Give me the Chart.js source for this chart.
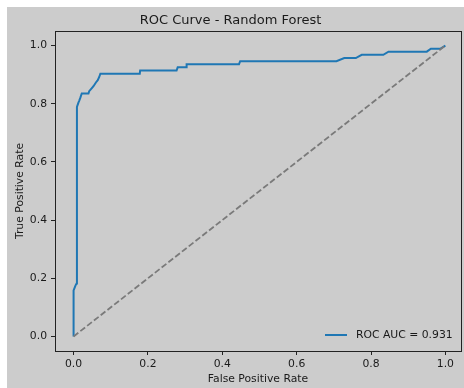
<!DOCTYPE html>
<html>
<head>
<meta charset="utf-8">
<script src="https://cdn.jsdelivr.net/npm/chart.js@4/dist/chart.umd.min.js"></script>
<style>
  html, body { margin: 0; padding: 0; background: #ffffff; }
  canvas { display: block; }
</style>
</head>
<body>
<canvas id="c" width="464" height="388"></canvas>
<script>
// ---- data ----
const chartTitle = 'ROC Curve - Random Forest';
const xLabel = 'False Positive Rate';
const yLabel = 'True Positive Rate';
const aucValue = 0.931;
const fpr = [0, 0, 0.005, 0.008, 0.009, 0.013, 0.015, 0.018, 0.022, 0.040, 0.042, 0.048, 0.054, 0.060, 0.065, 0.069, 0.072, 0.178, 0.179, 0.277, 0.280, 0.303, 0.304, 0.445, 0.448, 0.707, 0.728, 0.759, 0.775, 0.833, 0.847, 0.950, 0.961, 0.986, 1.0];
const tpr = [0, 0.158, 0.175, 0.182, 0.789, 0.804, 0.810, 0.820, 0.835, 0.835, 0.843, 0.852, 0.861, 0.873, 0.881, 0.892, 0.903, 0.903, 0.914, 0.914, 0.925, 0.925, 0.936, 0.936, 0.946, 0.946, 0.957, 0.957, 0.968, 0.968, 0.979, 0.979, 0.989, 0.989, 1.0];
const diagX = [0, 1];
const diagY = [0, 1];
const xTicks = [0, 0.2, 0.4, 0.6, 0.8, 1.0];
const yTicks = [0, 0.2, 0.4, 0.6, 0.8, 1.0];

// ---- styling ----
const FONT = 'DejaVu Sans';
const TXT = '#1a1a1a';
const BG = '#cccccc';
const ROC_COLOR = '#1f77b4';

const rocLabel = 'ROC AUC = ' + aucValue.toFixed(3);

const framePlugin = {
  id: 'frame',
  beforeDraw(chart) {
    const ctx = chart.ctx;
    ctx.save();
    ctx.fillStyle = '#ffffff';
    ctx.fillRect(0, 0, chart.width, chart.height);
    ctx.fillStyle = BG;
    ctx.fillRect(7, 7, chart.width - 7, chart.height - 7);
    ctx.restore();
  },
  afterDraw(chart) {
    const ctx = chart.ctx;
    const a = chart.chartArea;
    ctx.save();
    // axes box
    ctx.strokeStyle = '#222222';
    ctx.lineWidth = 1;
    ctx.strokeRect(Math.round(a.left) + 0.5, Math.round(a.top) + 0.5,
                   Math.round(a.right) - Math.round(a.left), Math.round(a.bottom) - Math.round(a.top));
    // legend (lower right, inside axes)
    const ly = a.bottom - 16;
    const lx = a.right - 136;
    ctx.strokeStyle = ROC_COLOR;
    ctx.lineWidth = 2;
    ctx.beginPath();
    ctx.moveTo(lx, ly);
    ctx.lineTo(lx + 22, ly);
    ctx.stroke();
    ctx.fillStyle = TXT;
    ctx.font = '10.8px "' + FONT + '"';
    ctx.textAlign = 'left';
    ctx.textBaseline = 'middle';
    ctx.fillText(rocLabel, lx + 31, ly);
    ctx.restore();
  }
};

const tickFont = { family: FONT, size: 10.8 };

new Chart(document.getElementById('c'), {
  type: 'scatter',
  data: {
    datasets: [
      {
        label: 'Random',
        data: diagX.map((x, i) => ({ x: x, y: diagY[i] })),
        showLine: true,
        borderColor: '#7a7a7a',
        borderWidth: 1.8,
        borderDash: [6, 2.6],
        pointRadius: 0,
        fill: false
      },
      {
        label: rocLabel,
        data: fpr.map((x, i) => ({ x: x, y: tpr[i] })),
        showLine: true,
        borderColor: ROC_COLOR,
        borderWidth: 2,
        pointRadius: 0,
        tension: 0,
        fill: false
      }
    ]
  },
  options: {
    responsive: false,
    animation: false,
    devicePixelRatio: 1,
    layout: { padding: { left: 0, right: 3, top: 0, bottom: 0 } },
    plugins: {
      legend: { display: false },
      tooltip: { enabled: false },
      title: {
        display: true,
        text: chartTitle,
        color: TXT,
        font: { family: FONT, size: 13, weight: 'normal' },
        padding: { top: 12.7, bottom: 2.7 }
      }
    },
    scales: {
      x: {
        type: 'linear',
        position: 'bottom',
        min: -0.05,
        max: 1.042,
        afterFit: s => { s.height = 37; },
        afterBuildTicks: s => { s.ticks = xTicks.map(v => ({ value: v })); },
        ticks: {
          callback: v => Number(v).toFixed(1),
          color: TXT, font: tickFont, padding: 3, maxRotation: 0, autoSkip: false
        },
        grid: { display: true, drawOnChartArea: false, drawTicks: true, tickLength: 4, tickColor: '#222222', tickWidth: 1 },
        border: { display: false },
        title: {
          display: true, text: xLabel, color: TXT, font: tickFont,
          padding: { top: 0, bottom: 2.6 }
        }
      },
      y: {
        type: 'linear',
        position: 'left',
        min: -0.05,
        max: 1.05,
        afterFit: s => { s.width = 55; },
        afterBuildTicks: s => { s.ticks = yTicks.map(v => ({ value: v })); },
        ticks: {
          callback: v => Number(v).toFixed(1),
          color: TXT, font: tickFont, padding: 4, autoSkip: false
        },
        grid: { display: true, drawOnChartArea: false, drawTicks: true, tickLength: 4, tickColor: '#222222', tickWidth: 1 },
        border: { display: false },
        title: {
          display: true, text: yLabel, color: TXT, font: tickFont,
          padding: { top: 13.6, bottom: 0 }
        }
      }
    }
  },
  plugins: [framePlugin]
});
</script>
</body>
</html>
